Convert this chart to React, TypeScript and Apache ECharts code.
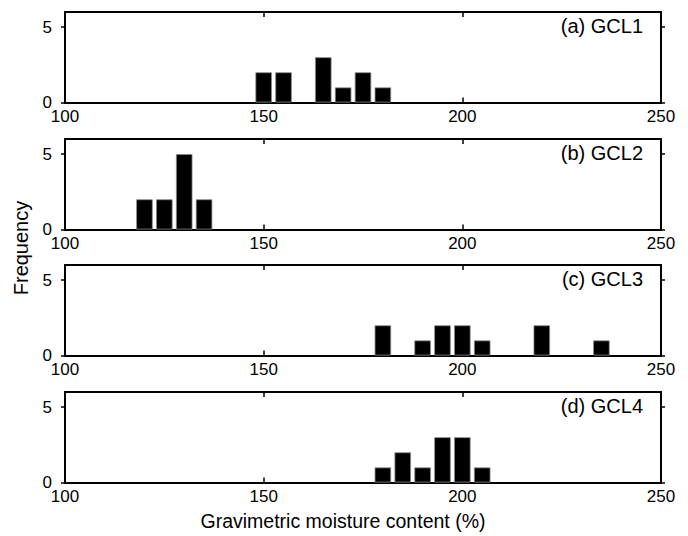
import React, { useEffect, useRef } from "react";
import * as echarts from "echarts";

const panelLabels = ["(a) GCL1", "(b) GCL2", "(c) GCL3", "(d) GCL4"];

const gcl1Bins = [150, 155, 165, 170, 175, 180];
const gcl1Freq = [2, 2, 3, 1, 2, 1];

const gcl2Bins = [120, 125, 130, 135];
const gcl2Freq = [2, 2, 5, 2];

const gcl3Bins = [180, 190, 195, 200, 205, 220, 235];
const gcl3Freq = [2, 1, 2, 2, 1, 2, 1];

const gcl4Bins = [180, 185, 190, 195, 200, 205];
const gcl4Freq = [1, 2, 1, 3, 3, 1];

const xTicks = [100, 150, 200, 250];
const yTicks = [0, 5];

const xTitle = "Gravimetric moisture content (%)";
const yTitle = "Frequency";

const panels = [
  [gcl1Bins, gcl1Freq],
  [gcl2Bins, gcl2Freq],
  [gcl3Bins, gcl3Freq],
  [gcl4Bins, gcl4Freq],
];

const FONT = "'Liberation Sans', Arial, Helvetica, sans-serif";

export default function App() {
  const ref = useRef<HTMLDivElement>(null);
  useEffect(() => {
    if (!ref.current) return;
    const chart = echarts.init(ref.current, null, { renderer: "svg" });
    const tops = [12, 139, 265, 392];
    const height = 90.5;
    const left = 65;
    const right = 27;
    const grid: any[] = [];
    const xAxis: any[] = [];
    const yAxis: any[] = [];
    const series: any[] = [];
    const graphic: any[] = [];
    const lineStyle = { color: "#000", width: 2 };
    panels.forEach(([bins, freq], i) => {
      grid.push({ left, right, top: tops[i], height, containLabel: false });
      xAxis.push({
        type: "value",
        gridIndex: i,
        position: "bottom",
        min: xTicks[0],
        max: xTicks[xTicks.length - 1],
        interval: 50,
        axisLine: { show: true, onZero: false, lineStyle },
        axisTick: { show: true, inside: true, length: 5, lineStyle: { color: "#000", width: 1.5 } },
        axisLabel: { show: true, color: "#000", fontSize: 17, fontFamily: FONT, margin: 5 },
        splitLine: { show: false },
      });
      xAxis.push({
        type: "value",
        gridIndex: i,
        position: "top",
        min: xTicks[0],
        max: xTicks[xTicks.length - 1],
        interval: 50,
        axisLine: { show: true, onZero: false, lineStyle },
        axisTick: { show: true, inside: true, length: 5, lineStyle: { color: "#000", width: 1.5 } },
        axisLabel: { show: false },
        splitLine: { show: false },
      });
      yAxis.push({
        type: "value",
        gridIndex: i,
        position: "left",
        min: 0,
        max: 6,
        interval: 5,
        axisLine: { show: true, onZero: false, lineStyle },
        axisTick: { show: true, inside: false, length: 4, customValues: yTicks, lineStyle: { color: "#000", width: 1.5 } },
        axisLabel: { show: true, customValues: yTicks, color: "#000", fontSize: 17, fontFamily: FONT, margin: 13 },
        splitLine: { show: false },
      });
      yAxis.push({
        type: "value",
        gridIndex: i,
        position: "right",
        min: 0,
        max: 6,
        interval: 5,
        axisLine: { show: true, onZero: false, lineStyle },
        axisTick: { show: true, inside: false, length: 4, customValues: yTicks, lineStyle: { color: "#000", width: 1.5 } },
        axisLabel: { show: false },
        splitLine: { show: false },
      });
      series.push({
        type: "bar",
        xAxisIndex: i * 2,
        yAxisIndex: i * 2,
        barWidth: 16.5,
        data: (bins as number[]).map((b, k) => [b, (freq as number[])[k]]),
        itemStyle: { color: "#000", borderColor: "#8a8a8a", borderWidth: 0.8 },
        z: 1,
      });
      graphic.push({
        type: "text",
        right: 45,
        top: tops[i] + 4,
        style: { text: panelLabels[i], fill: "#000", font: `20px ${FONT}` },
      });
    });
    graphic.push({
      type: "text",
      x: 343,
      y: 521,
      style: { text: xTitle, fill: "#000", font: `19.5px ${FONT}`, align: "center", verticalAlign: "middle" },
    });
    graphic.push({
      type: "text",
      x: 21,
      y: 248,
      rotation: Math.PI / 2,
      style: { text: yTitle, fill: "#000", font: `20px ${FONT}`, align: "center", verticalAlign: "middle" },
    });
    chart.setOption({
      animation: false,
      backgroundColor: "#fff",
      grid,
      xAxis,
      yAxis,
      series,
      graphic,
    });
    return () => chart.dispose();
  }, []);
  return (
    <div
      ref={ref}
      style={{ width: 688, height: 536, position: "fixed", left: 0, top: 0 }}
    />
  );
}
